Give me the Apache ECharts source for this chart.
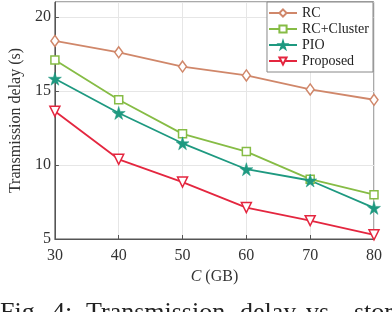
<!DOCTYPE html>
<html>
<head>
<meta charset="utf-8">
<script src="https://cdn.jsdelivr.net/npm/echarts@6/dist/echarts.min.js"></script>
<style>html,body{margin:0;padding:0;background:#fff;}#c{width:392px;height:312px;}</style>
</head>
<body>
<div id="c"></div>
<script>
const categories = [30, 40, 50, 60, 70, 80];
const rc = [18.37, 17.6, 16.64, 16.04, 15.1, 14.4];
const rcCluster = [17.09, 14.4, 12.1, 10.9, 9.04, 7.99];
const pio = [15.82, 13.51, 11.46, 9.71, 8.95, 7.1];
const proposed = [13.62, 10.38, 8.84, 7.12, 6.24, 5.28];
const seriesNames = ['RC', 'RC+Cluster', 'PIO', 'Proposed'];
const yTicks = [5, 10, 15, 20];
const captionWords = ['Fig.', '4:', 'Transmission', 'delay', 'vs.', 'storage'];

const serif = '"Liberation Serif", "Times New Roman", serif';
const colors = ['#D0876A', '#86BC45', '#1E9980', '#E4263F'];
const star = 'path://M50,0 L61,35 L98,35 L68,57 L79,91 L50,70 L21,91 L32,57 L2,35 L39,35 Z';
const captionX = [0, 52, 86, 240, 306, 354];

function pairs(arr) { return categories.map((x, i) => [x, arr[i]]); }

function mk(name, data, color, symbol, size, hollow, rotate) {
  return {
    name: name, type: 'line', data: pairs(data),
    symbol: symbol, symbolSize: size, symbolRotate: rotate || 0,
    showSymbol: true,
    lineStyle: { color: color, width: 1.8 },
    itemStyle: hollow ? { color: '#fff', borderColor: color, borderWidth: 1.5 } : { color: color, borderColor: color, borderWidth: 0.5 },
    emphasis: { disabled: true },
    animation: false
  };
}

const chart = echarts.init(document.getElementById('c'), null, { renderer: 'canvas' });
chart.setOption({
  animation: false,
  backgroundColor: '#fff',
  grid: { left: 46, right: 18, top: 2, bottom: 73, show: true, borderColor: '#555', borderWidth: 1, backgroundColor: 'transparent' },
  xAxis: {
    type: 'value', min: 30, max: 80, interval: 10,
    name: '{i|C} (GB)', nameLocation: 'middle', nameGap: 30,
    nameTextStyle: { fontFamily: serif, fontSize: 16, color: '#333', rich: { i: { fontFamily: serif, fontSize: 16, fontStyle: 'italic', color: '#333' } } },
    axisLine: { lineStyle: { color: '#555' } },
    axisTick: { inside: true, length: 4, lineStyle: { color: '#555' } },
    axisLabel: { fontFamily: serif, fontSize: 16, color: '#333', margin: 9 },
    splitLine: { show: true, lineStyle: { color: '#e6e6e6' } }
  },
  yAxis: {
    type: 'value', min: 5, max: 21, interval: 5,
    name: 'Transmission delay (s)', nameLocation: 'middle', nameGap: 29,
    nameTextStyle: { fontFamily: serif, fontSize: 16, color: '#333' },
    axisLine: { lineStyle: { color: '#555' } },
    axisTick: { inside: true, length: 4, lineStyle: { color: '#555' } },
    axisLabel: { fontFamily: serif, fontSize: 16, color: '#333', margin: 4, showMaxLabel: false,
      formatter: v => (yTicks.indexOf(v) >= 0 ? String(v) : '') },
    splitLine: { show: true, lineStyle: { color: '#e6e6e6' } }
  },
  legend: {
    orient: 'vertical', right: 19, top: 2,
    data: seriesNames,
    itemWidth: 28, itemHeight: 9, itemGap: 2,
    padding: [4, 4, 4, 1],
    backgroundColor: '#fff', borderColor: '#888', borderWidth: 1,
    textStyle: { fontFamily: serif, fontSize: 14, color: '#222' }
  },
  series: [
    mk(seriesNames[0], rc, colors[0], 'diamond', [8, 11], true),
    mk(seriesNames[1], rcCluster, colors[1], 'rect', 8, true),
    mk(seriesNames[2], pio, colors[2], star, 13, false),
    mk(seriesNames[3], proposed, colors[3], 'triangle', 10, true, 180)
  ],
  graphic: captionWords.map((w, i) => ({
    type: 'text', left: captionX[i], top: 300, silent: true,
    style: { text: w, fontFamily: serif, fontSize: 26, fill: '#222' }
  }))
});
</script>
</body>
</html>
